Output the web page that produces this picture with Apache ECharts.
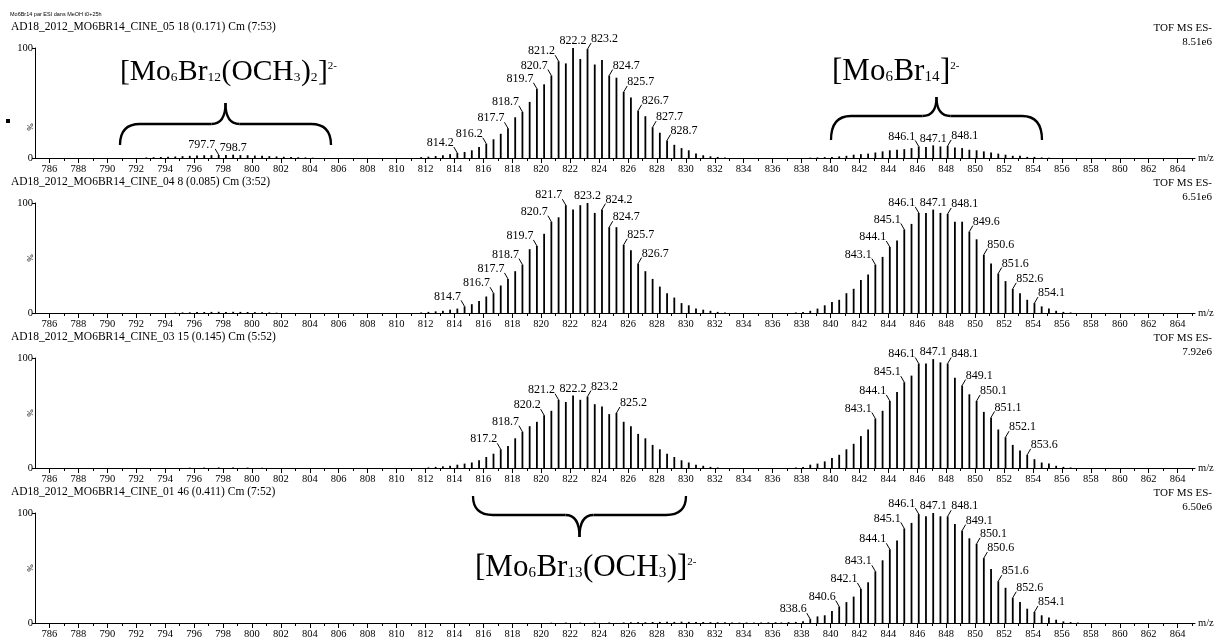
<!DOCTYPE html>
<html><head><meta charset="utf-8">
<script src="https://cdn.jsdelivr.net/npm/echarts@6/dist/echarts.min.js"></script>
<style>html,body{margin:0;padding:0;background:#fff}#c{width:1218px;height:640px}</style>
</head><body><div id="c"></div>
<script>
// ---------- DATA ----------
const majorTicks = [786,788,790,792,794,796,798,800,802,804,806,808,810,812,814,816,818,820,822,824,826,828,830,832,834,836,838,840,842,844,846,848,850,852,854,856,858,860,862,864];
const minorTicks = [787,789,791,793,795,797,799,801,803,805,807,809,811,813,815,817,819,821,823,825,827,829,831,833,835,837,839,841,843,845,847,849,851,853,855,857,859,861,863,865];

const headers = [
  "AD18_2012_MO6BR14_CINE_05 18 (0.171) Cm (7:53)",
  "AD18_2012_MO6BR14_CINE_04 8 (0.085) Cm (3:52)",
  "AD18_2012_MO6BR14_CINE_03 15 (0.145) Cm (5:52)",
  "AD18_2012_MO6BR14_CINE_01 46 (0.411) Cm (7:52)"
];
const scales = ["8.51e6","6.51e6","7.92e6","6.50e6"];

// Formula annotations: [text, kind] (n = normal, s = subscript, p = superscript)
const formulaA = [['[Mo','n'],['6','s'],['Br','n'],['12','s'],['(OCH','n'],['3','s'],[')','n'],['2','s'],[']','n'],['2-','p']];
const formulaB = [['[Mo','n'],['6','s'],['Br','n'],['14','s'],[']','n'],['2-','p']];
const formulaC = [['[Mo','n'],['6','s'],['Br','n'],['13','s'],['(OCH','n'],['3','s'],[')]','n'],['2-','p']];

// Panel 1
const p1Mz = [792.7,793.2,793.7,794.2,794.7,795.2,795.7,796.2,796.7,797.2,797.7,798.2,798.7,799.2,799.7,800.2,800.7,801.2,801.7,802.2,802.7,803.2,803.7,804.2,
 811.7,812.2,812.7,813.2,813.7,814.2,814.7,815.2,815.7,816.2,816.7,817.2,817.7,818.2,818.7,819.2,819.7,820.2,820.7,821.2,821.7,822.2,822.7,823.2,823.7,824.2,824.7,825.2,825.7,826.2,826.7,827.2,827.7,828.2,828.7,829.2,829.7,830.2,830.7,831.2,831.7,832.2,832.7,
 838.6,839.1,839.6,840.1,840.6,841.1,841.6,842.1,842.6,843.1,843.6,844.1,844.6,845.1,845.6,846.1,846.6,847.1,847.6,848.1,848.6,849.1,849.6,850.1,850.6,851.1,851.6,852.1,852.6,853.1,853.6,854.1,854.6,855.1];
const p1Int = [0.5,0.7,0.9,1.1,1.4,1.7,2.0,2.2,2.5,2.6,2.8,2.7,3.0,2.6,2.5,2.2,2.0,1.7,1.4,1.1,0.9,0.7,0.5,0.3,
 0.8,1.2,1.8,2.5,3.5,4.5,5.5,7,10,13,17,22,27,37,42,51,63,67,75,88,86,100,90,99,85,89,75,73,60,55,43,38,28,23,16,12,9,7,4,2.5,1.5,1,0.5,
 0.3,0.5,0.8,1,1.5,2,3,3.5,4,5,6,7,7.5,8,9,10.5,10,11.5,10.5,11,9.5,9,7.5,7,6,5,4,3,2,2,1,1,0.5,0.3];
const p1Labels = [797.7,798.7,814.2,816.2,817.7,818.7,819.7,820.7,821.2,822.2,823.2,824.7,825.7,826.7,827.7,828.7,846.1,847.1,848.1];

// Panel 2
const p2Mz = [794.7,795.2,795.7,796.2,796.7,797.2,797.7,798.2,798.7,799.2,799.7,800.2,800.7,801.2,801.7,
 811.7,812.2,812.7,813.2,813.7,814.2,814.7,815.2,815.7,816.2,816.7,817.2,817.7,818.2,818.7,819.2,819.7,820.2,820.7,821.2,821.7,822.2,822.7,823.2,823.7,824.2,824.7,825.2,825.7,826.2,826.7,827.2,827.7,828.2,828.7,829.2,829.7,830.2,830.7,831.2,831.7,832.2,832.7,
 837.6,838.1,838.6,839.1,839.6,840.1,840.6,841.1,841.6,842.1,842.6,843.1,843.6,844.1,844.6,845.1,845.6,846.1,846.6,847.1,847.6,848.1,848.6,849.1,849.6,850.1,850.6,851.1,851.6,852.1,852.6,853.1,853.6,854.1,854.6,855.1,855.6,856.1,856.6];
const p2Int = [0.3,0.5,0.6,0.8,0.9,1,1.1,1,1.1,1,0.9,0.8,0.6,0.5,0.3,
 0.5,1,1.5,2,3,4,6,8,11,15,18,25,31,38,44,58,61,72,83,87,98,94,98,100,91,94,78,78,62,57,45,38,31,24,18,14,9,7,4,3,2,1,0.5,
 0.5,1,2,4,7,10,12,18,22,30,35,44,51,60,66,76,81,91,91,94,91,90,83,83,74,67,53,45,36,29,22,18,12,9,6,4,2,1,0.5];
const p2Labels = [814.7,816.7,817.7,818.7,819.7,820.7,821.7,823.2,824.2,824.7,825.7,826.7,843.1,844.1,845.1,846.1,847.1,848.1,849.6,850.6,851.6,852.6,854.1];

// Panel 3
const p3Mz = [795.7,796.7,797.7,798.7,799.7,800.7,
 812.2,812.7,813.2,813.7,814.2,814.7,815.2,815.7,816.2,816.7,817.2,817.7,818.2,818.7,819.2,819.7,820.2,820.7,821.2,821.7,822.2,822.7,823.2,823.7,824.2,824.7,825.2,825.7,826.2,826.7,827.2,827.7,828.2,828.7,829.2,829.7,830.2,830.7,831.2,831.7,832.2,
 837.6,838.1,838.6,839.1,839.6,840.1,840.6,841.1,841.6,842.1,842.6,843.1,843.6,844.1,844.6,845.1,845.6,846.1,846.6,847.1,847.6,848.1,848.6,849.1,849.6,850.1,850.6,851.1,851.6,852.1,852.6,853.1,853.6,854.1,854.6,855.1,855.6,856.1,856.6];
const p3Int = [0.3,0.4,0.5,0.5,0.4,0.3,
 0.5,1,1.5,2,3,4,5,7,10,13,17,20,27,33,38,42,48,52,62,60,66,62,65,58,56,49,50,42,38,31,27,21,17,13,10,7,5,3,2,1,0.5,
 0.5,1,3,4,6,9,12,17,22,29,35,45,52,61,69,78,84,95,95,99,96,95,82,75,67,61,51,46,35,28,21,16,12,8,5,4,2,1,0.5];
const p3Labels = [817.2,818.7,820.2,821.2,822.2,823.2,825.2,843.1,844.1,845.1,846.1,847.1,848.1,849.1,850.1,851.1,852.1,853.6];

// Panel 4
const p4Mz = [820.7,821.7,822.7,823.7,824.7,825.7,826.2,826.7,827.2,827.7,828.2,828.7,829.2,829.7,830.2,830.7,831.2,831.7,832.2,832.7,833.2,833.7,834.2,834.7,835.2,835.7,836.2,
 836.6,837.1,837.6,838.1,838.6,839.1,839.6,840.1,840.6,841.1,841.6,842.1,842.6,843.1,843.6,844.1,844.6,845.1,845.6,846.1,846.6,847.1,847.6,848.1,848.6,849.1,849.6,850.1,850.6,851.1,851.6,852.1,852.6,853.1,853.6,854.1,854.6,855.1,855.6,856.1,856.6,857.1];
const p4Int = [0.3,0.4,0.4,0.4,0.5,0.5,0.6,0.8,0.7,0.9,1,1.1,1,1.2,1,1,0.9,0.8,0.7,0.6,0.5,0.4,0.5,0.4,0.5,0.6,0.7,
 0.5,0.8,1,1.5,3.5,6,7,11,15,19,24,31,37,47,57,67,75,86,91,99,97,100,97,97,90,84,77,72,59,49,38,32,23,19,13,10,7,5,3,1.5,0.8,0.4];
const p4Labels = [838.6,840.6,842.1,843.1,844.1,845.1,846.1,847.1,848.1,849.1,850.1,850.6,851.6,852.6,854.1];

// ---------- BUILD ----------
const panels = [[p1Mz,p1Int,p1Labels],[p2Mz,p2Int,p2Labels],[p3Mz,p3Int,p3Labels],[p4Mz,p4Int,p4Labels]];
const SERIF = '"Liberation Serif","Times New Roman",serif';
const TOP0 = 48, STEP = 155, H = 110, LEFT = 35, RIGHT = 23;
const pctY = [127, 258, 413, 568];

function buildData(mz, ints, labels){
  const intOf = m => ints[mz.indexOf(m)];
  return mz.map((m,i)=>{
    let side = -1;
    if (labels.includes(m)) {
      const cl = labels.filter(l=>Math.abs(l-m)<12);
      let apex = cl[0];
      cl.forEach(l=>{ if(intOf(l)>intOf(apex)) apex=l; });
      side = m<apex?0:(m>apex?2:1);
    }
    return [m, ints[i], side];
  });
}

function renderItem(params, api){
  const m = api.value(0), v = api.value(1), side = api.value(2);
  const p0 = api.coord([m,0]), p1 = api.coord([m,v]);
  const x = p0[0], top = p1[1];
  const ch = [{type:'line', shape:{x1:x,y1:p0[1],x2:x,y2:top}, style:{stroke:'#000', lineWidth:1.8}}];
  const txt = m.toFixed(1);
  const font = '12px ' + SERIF;
  if (side === 1) {
    ch.push({type:'text', style:{text:txt, x:x, y:top-1, align:'center', verticalAlign:'bottom', font:font, fill:'#000'}});
  } else if (side === 0) {
    ch.push({type:'line', shape:{x1:x,y1:top,x2:x-3.5,y2:top-6}, style:{stroke:'#000', lineWidth:1}});
    ch.push({type:'text', style:{text:txt, x:x-3.5, y:top-4, align:'right', verticalAlign:'bottom', font:font, fill:'#000'}});
  } else if (side === 2) {
    ch.push({type:'line', shape:{x1:x,y1:top,x2:x+3.5,y2:top-6}, style:{stroke:'#000', lineWidth:1}});
    ch.push({type:'text', style:{text:txt, x:x+3.5, y:top-4, align:'left', verticalAlign:'bottom', font:font, fill:'#000'}});
  }
  return {type:'group', children:ch};
}

const grids=[], xAxes=[], yAxes=[], series=[], graphics=[];
panels.forEach((p,k)=>{
  const top = TOP0 + STEP*k;
  grids.push({left:LEFT, right:RIGHT, top:top, height:H});
  const axBase = {gridIndex:k, type:'value', position:'bottom', offset:0, min:785, max:865.2, splitLine:{show:false}};
  xAxes.push(Object.assign({}, axBase, {
    axisLine:{lineStyle:{color:'#000', width:1}},
    axisTick:{customValues:majorTicks, length:5, lineStyle:{color:'#000'}},
    axisLabel:{customValues:majorTicks, color:'#000', fontSize:10.5, fontFamily:SERIF, margin:6},
    name:'m/z', nameLocation:'end', nameGap:3, nameTextStyle:{color:'#000', fontSize:10.5, fontFamily:SERIF}
  }));
  xAxes.push(Object.assign({}, axBase, {
    axisLine:{show:false},
    axisTick:{customValues:minorTicks, length:3, lineStyle:{color:'#000'}},
    axisLabel:{show:false}
  }));
  yAxes.push({gridIndex:k, type:'value', min:0, max:100, interval:100, splitLine:{show:false},
    axisLine:{show:true, lineStyle:{color:'#000'}},
    axisTick:{show:true, length:3, lineStyle:{color:'#000'}},
    axisLabel:{color:'#000', fontSize:10.5, fontFamily:SERIF, margin:2}
  });
  series.push({type:'custom', xAxisIndex:2*k, yAxisIndex:k, renderItem:renderItem, data:buildData(p[0],p[1],p[2]), silent:true, clip:false});
  graphics.push({type:'text', left:11, top:top-27, style:{text:headers[k], font:'11.5px '+SERIF, fill:'#000'}});
  graphics.push({type:'text', right:6, top:top-25, style:{text:'TOF MS ES-', font:'11px '+SERIF, fill:'#000'}});
  graphics.push({type:'text', right:6, top:top-11, style:{text:scales[k], font:'11px '+SERIF, fill:'#000'}});
  graphics.push({type:'text', x:31, y:pctY[k], rotation:Math.PI/2, style:{text:'%', font:'9px '+SERIF, fill:'#000', align:'center', verticalAlign:'middle'}});
});

graphics.push({type:'text', left:10, top:11, style:{text:'Mo6Br14 par ESI dans MeOH t0+25h', font:'5.5px "Liberation Sans",Arial,sans-serif', fill:'#000'}});
graphics.push({type:'rect', shape:{x:6, y:119, width:4, height:4}, style:{fill:'#000'}});

function braceParts(x1,x2,yEnd,yMid,yTip,rEnd,rMid){
  const xc=(x1+x2)/2, st={stroke:'#000', fill:null, lineWidth:2.3};
  const q = (a,b,c,d,e,f)=>({type:'bezierCurve', shape:{x1:a,y1:b,cpx1:c,cpy1:d,x2:e,y2:f}, style:st});
  const l = (a,b,c,d)=>({type:'line', shape:{x1:a,y1:b,x2:c,y2:d}, style:st});
  return [
    q(x1,yEnd,x1,yMid,x1+rEnd,yMid),
    l(x1+rEnd,yMid,xc-rMid,yMid),
    q(xc-rMid,yMid,xc,yMid,xc,yTip),
    q(xc,yTip,xc,yMid,xc+rMid,yMid),
    l(xc+rMid,yMid,x2-rEnd,yMid),
    q(x2-rEnd,yMid,x2,yMid,x2,yEnd)
  ];
}
[[120,331,145,124,103],[831,1042,140,116,97],[473,686,496,515,537]].forEach(b=>{
  braceParts(b[0],b[1],b[2],b[3],b[4],20,14).forEach(e=>graphics.push(e));
});

// formula text pieces placed on a common baseline
const mctx = document.createElement('canvas').getContext('2d');
function midToBase(fs){ mctx.font = fs+'px '+SERIF; mctx.textBaseline='middle'; return mctx.measureText('H').actualBoundingBoxDescent; }
function formula(parts, x0, B, FS){
  let x = x0;
  parts.forEach(([t,k])=>{
    const fs = FS[k];
    mctx.font = fs+'px '+SERIF; mctx.textBaseline='alphabetic';
    const w = mctx.measureText(t).width;
    const base = k==='n' ? B : (k==='s' ? B+1 : B-11);
    graphics.push({type:'text', x:x, y:base - midToBase(fs), style:{text:t, font:fs+'px '+SERIF, fill:'#000', align:'left', verticalAlign:'middle'}});
    x += w + (k==='s' ? 0.5 : 0);
  });
}
formula(formulaA, 120, 80, {n:29.5, s:13.5, p:11});
formula(formulaB, 832, 80, {n:31, s:15, p:11});
formula(formulaC, 475, 576, {n:31, s:15, p:11});

const chart = echarts.init(document.getElementById('c'));
chart.setOption({
  animation:false, backgroundColor:'#fff',
  grid:grids, xAxis:xAxes, yAxis:yAxes, series:series, graphic:graphics
});
</script></body></html>
